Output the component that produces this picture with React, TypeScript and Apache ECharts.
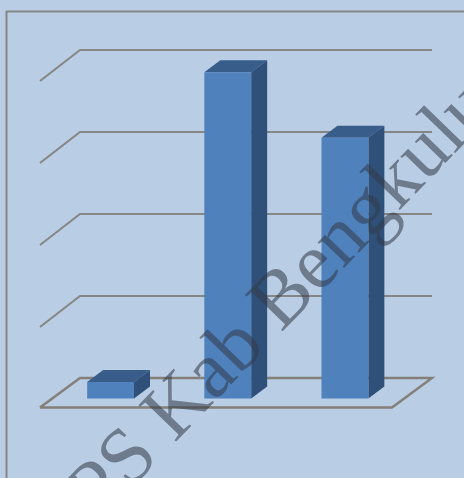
import React, { useEffect, useRef } from "react";
import * as echarts from "echarts";

const categories = ["A", "B", "C"];
const barValues = [0.2, 3.98, 3.18];
const gridTicks = [0, 1, 2, 3, 4];
const watermarkText = "BPS Kab Bengkulu Utara";

const BG = "#b9cde5";
const LINE = "#868686";
const FLOOR = "#847f78";
const FRONT = "#4f81bd";
const TOP = "#385d8a";
const SIDE = "#2f5079";
const DX = 16;
const DY = 12;

function renderGrid(params: any, api: any) {
  const cs = params.coordSys;
  const y = api.coord([0, api.value(1)])[1];
  const v = api.value(1);
  const lineStyle = {
    stroke: v === 0 ? FLOOR : LINE,
    lineWidth: v === 0 ? 2.4 : 2,
    fill: "none",
  };
  const fl = cs.x - 12;
  const bl = cs.x + 28;
  const br = cs.x + 380;
  const fr = cs.x + 340;
  const front = y + 8.5 + (v === 0 ? 0.5 : 2);
  const back = y - 20.5;
  const pts =
    v === 0
      ? [[fl, front], [bl, back], [br, back], [fr, front], [fl, front]]
      : [[fl, front], [bl, back], [br, back]];
  return { type: "polyline", shape: { points: pts }, style: lineStyle, silent: true };
}

function renderBar(_params: any, api: any) {
  const c = api.coord([api.value(0), api.value(1)]);
  const base = api.coord([api.value(0), 0]);
  const w = api.size([1, 0])[0] * 0.4;
  const l = c[0] - w / 2;
  const r = c[0] + w / 2;
  const t = c[1];
  const b = base[1];
  return {
    type: "group",
    children: [
      {
        type: "polygon",
        shape: { points: [[l, t], [r, t], [r + DX, t - DY], [l + DX, t - DY]] },
        style: { fill: TOP },
      },
      {
        type: "polygon",
        shape: { points: [[r, t], [r + DX, t - DY], [r + DX, b - DY], [r, b]] },
        style: { fill: SIDE },
      },
      {
        type: "rect",
        shape: { x: l, y: t, width: w, height: b - t },
        style: { fill: FRONT },
      },
    ],
  };
}

export default function App() {
  const ref = useRef<HTMLDivElement>(null);
  useEffect(() => {
    const chart = echarts.init(ref.current!, null, { renderer: "svg" });
    chart.setOption({
      animation: false,
      backgroundColor: BG,
      grid: { left: 52, top: 70.5, width: 351.5, height: 328 },
      xAxis: { type: "category", data: categories, show: false },
      yAxis: { type: "value", min: 0, max: 4, interval: 1, show: false },
      graphic: [
        {
          type: "rect",
          z: 1,
          silent: true,
          shape: { x: 6.5, y: 11.5, width: 600, height: 600 },
          style: { fill: "none", stroke: LINE, lineWidth: 2 },
        },
        {
          type: "text",
          z: 100,
          silent: true,
          x: 71,
          y: 569,
          rotation: (46 * Math.PI) / 180,
          style: {
            text: watermarkText,
            font: '80px "Liberation Serif"',
            fill: "rgba(50,58,72,0.56)",
            textVerticalAlign: "bottom",
          },
        },
      ],
      series: [
        {
          type: "custom",
          z: 1,
          clip: false,
          silent: true,
          renderItem: renderGrid,
          data: gridTicks.map((t) => [0, t]),
          encode: { x: 0, y: 1 },
        },
        {
          type: "custom",
          z: 2,
          clip: false,
          silent: true,
          renderItem: renderBar,
          data: barValues.map((v, i) => [i, v]),
          encode: { x: 0, y: 1 },
        },
      ],
    });
    return () => chart.dispose();
  }, []);
  return (
    <div
      ref={ref}
      style={{ position: "fixed", left: 0, top: 0, width: 464, height: 478 }}
    />
  );
}
